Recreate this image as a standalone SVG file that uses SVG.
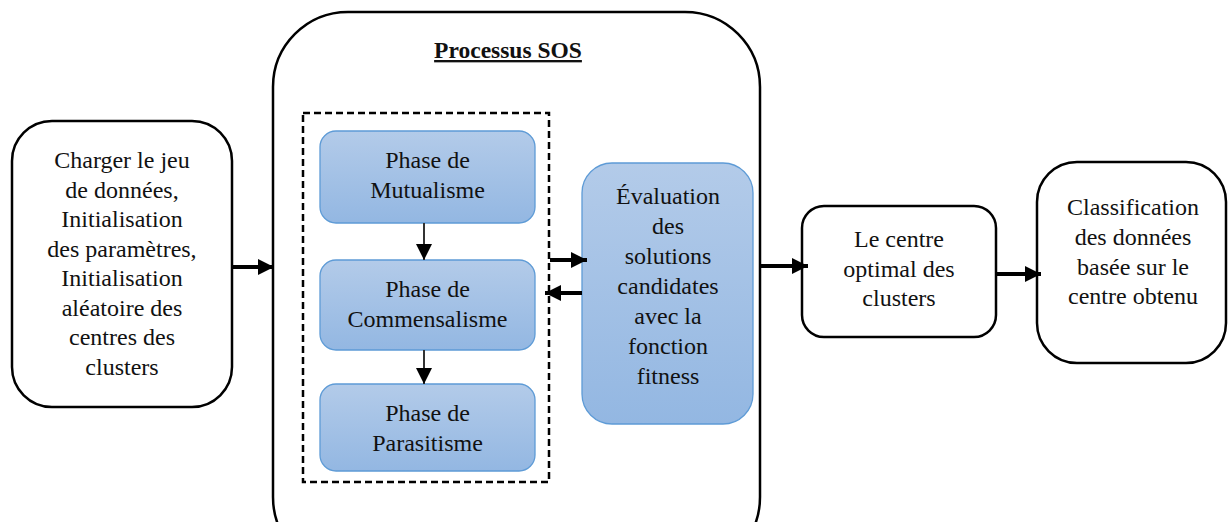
<svg xmlns="http://www.w3.org/2000/svg" width="1228" height="522" viewBox="0 0 1228 522">
<defs>
<linearGradient id="blue" x1="0" y1="0" x2="0" y2="1">
<stop offset="0" stop-color="#b3cbe9"/>
<stop offset="1" stop-color="#93b7e2"/>
</linearGradient>
<marker id="ah" markerWidth="4" markerHeight="4" refX="4" refY="2" orient="auto" markerUnits="strokeWidth" viewBox="0 0 4 4">
<path d="M0,0 L4,2 L0,4 Z" fill="#000"/>
</marker>
<marker id="ahs" markerWidth="8" markerHeight="8" refX="8" refY="4" orient="auto" markerUnits="strokeWidth" viewBox="0 0 8 8">
<path d="M0,0 L8,4 L0,8 Z" fill="#000"/>
</marker>
</defs>
<style>
text{font-family:'Liberation Serif','Times New Roman',serif;font-size:24px;fill:#111;text-anchor:middle}
.title{font-size:23.5px;font-weight:bold;text-decoration:underline}
.w{fill:#fff;stroke:#000;stroke-width:2.5}
.b{fill:url(#blue);stroke:#5e9bd6;stroke-width:1.3}
.thick{stroke:#000;stroke-width:4;fill:none;marker-end:url(#ah)}
.thin{stroke:#333;stroke-width:2;fill:none;marker-end:url(#ahs)}
</style>
<rect width="1228" height="522" fill="#fff"/>
<g id="sos">
<rect class="w" x="273" y="12" width="487" height="560" rx="75" ry="75"/>
<text class="title" x="508" y="58">Processus SOS</text>
<rect x="303" y="113" width="246" height="369" fill="none" stroke="#000" stroke-width="2.5" stroke-dasharray="7,4"/>
</g>
<g id="input">
<rect class="w" x="12" y="121" width="220" height="286" rx="40" ry="40"/>
<text><tspan x="122" y="168">Charger le jeu</tspan><tspan x="122" y="197.5">de données,</tspan><tspan x="122" y="227">Initialisation</tspan><tspan x="122" y="256.5">des paramètres,</tspan><tspan x="122" y="286">Initialisation</tspan><tspan x="122" y="315.5">aléatoire des</tspan><tspan x="122" y="345">centres des</tspan><tspan x="122" y="374.5">clusters</tspan></text>
</g>
<g id="mutualisme">
<rect class="b" x="320" y="131" width="215" height="92" rx="16" ry="16"/>
<text><tspan x="427.5" y="168">Phase de</tspan><tspan x="427.5" y="197.5">Mutualisme</tspan></text>
</g>
<g id="commensalisme">
<rect class="b" x="320" y="260" width="215" height="90" rx="16" ry="16"/>
<text><tspan x="427.5" y="297">Phase de</tspan><tspan x="427.5" y="326.5">Commensalisme</tspan></text>
</g>
<g id="parasitisme">
<rect class="b" x="320" y="384" width="215" height="87" rx="16" ry="16"/>
<text><tspan x="427.5" y="421">Phase de</tspan><tspan x="427.5" y="450.5">Parasitisme</tspan></text>
</g>
<g id="evaluation">
<rect class="b" x="582" y="163" width="171" height="261" rx="30" ry="30"/>
<text><tspan x="668" y="204">Évaluation</tspan><tspan x="668" y="234">des</tspan><tspan x="668" y="264">solutions</tspan><tspan x="668" y="294">candidates</tspan><tspan x="668" y="324">avec la</tspan><tspan x="668" y="354">fonction</tspan><tspan x="668" y="384">fitness</tspan></text>
</g>
<g id="optimal">
<rect class="w" x="802" y="206" width="194" height="131" rx="22" ry="22"/>
<text><tspan x="899" y="247">Le centre</tspan><tspan x="899" y="276.5">optimal des</tspan><tspan x="899" y="306">clusters</tspan></text>
</g>
<g id="classification">
<rect class="w" x="1037" y="162" width="189" height="201" rx="40" ry="40"/>
<text><tspan x="1133" y="215">Classification</tspan><tspan x="1133" y="245">des données</tspan><tspan x="1133" y="275">basée sur le</tspan><tspan x="1133" y="304">centre obtenu</tspan></text>
</g>
<g id="connectors">
<line class="thick" x1="232" y1="267" x2="274" y2="267"/>
<line class="thin" x1="424" y1="223" x2="424" y2="260"/>
<line class="thin" x1="424" y1="350" x2="424" y2="384"/>
<line class="thick" x1="550" y1="260" x2="587" y2="260"/>
<line class="thick" x1="582" y1="293" x2="545" y2="293"/>
<line class="thick" x1="761" y1="266" x2="808" y2="266"/>
<line class="thick" x1="996" y1="274" x2="1041" y2="274"/>
</g>
</svg>
